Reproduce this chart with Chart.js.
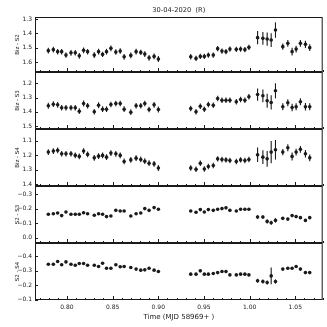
<!DOCTYPE html>
<html>
<head>
<meta charset="utf-8">
<script src="https://cdn.jsdelivr.net/npm/chart.js@4"></script>
<style>
  body { margin: 0; background: #fff; }
  #wrap { position: relative; width: 327px; height: 327px; }
  .painel { position: absolute; left: 0; width: 327px; }
</style>
</head>
<body>
<div id="wrap"></div>
<script>
// tempos (MJD 58969+)
const tempos = [
  0.7796, 0.7851, 0.7898, 0.7942, 0.7989, 0.8044, 0.8091, 0.8135, 0.8182, 0.8226,
  0.8299, 0.8346, 0.8390, 0.8433, 0.8481, 0.8535, 0.8583, 0.8626, 0.8699, 0.8757,
  0.8808, 0.8852, 0.8899, 0.8954, 0.9001,
  0.9355, 0.9413, 0.9460, 0.9504, 0.9548, 0.9602, 0.9650, 0.9697, 0.9741, 0.9784,
  0.9854, 0.9901, 0.9948, 0.9992,
  1.0087, 1.0145, 1.0192, 1.0236, 1.0283,
  1.0363, 1.0418, 1.0465, 1.0509, 1.0556, 1.0611, 1.0658
];

const bizS2 = [
  1.521, 1.514, 1.528, 1.528, 1.552, 1.536, 1.536, 1.557, 1.519, 1.528,
  1.552, 1.528, 1.547, 1.528, 1.505, 1.531, 1.524, 1.564, 1.554, 1.528,
  1.533, 1.545, 1.571, 1.561, 1.580,
  1.564, 1.575, 1.561, 1.561, 1.552, 1.552, 1.507, 1.524, 1.528, 1.510,
  1.512, 1.510, 1.514, 1.498,
  1.430, 1.435, 1.440, 1.447, 1.377,
  1.493, 1.470, 1.528, 1.510, 1.470, 1.477, 1.500
];
const errBizS2 = [
  0.020, 0.020, 0.019, 0.019, 0.019, 0.020, 0.019, 0.020, 0.020, 0.019,
  0.020, 0.020, 0.019, 0.020, 0.020, 0.019, 0.019, 0.020, 0.020, 0.020,
  0.019, 0.020, 0.020, 0.020, 0.021,
  0.019, 0.018, 0.018, 0.018, 0.018, 0.018, 0.018, 0.018, 0.018, 0.018,
  0.018, 0.018, 0.018, 0.018,
  0.047, 0.044, 0.046, 0.048, 0.054,
  0.022, 0.024, 0.027, 0.024, 0.024, 0.026, 0.024
];

const bizS3 = [
  1.358, 1.347, 1.351, 1.372, 1.372, 1.372, 1.372, 1.396, 1.342, 1.358,
  1.400, 1.354, 1.382, 1.382, 1.349, 1.342, 1.342, 1.382, 1.403, 1.358,
  1.358, 1.342, 1.384, 1.351, 1.384,
  1.377, 1.400, 1.361, 1.382, 1.349, 1.354, 1.307, 1.319, 1.319, 1.319,
  1.330, 1.314, 1.319, 1.295,
  1.279, 1.288, 1.323, 1.335, 1.253,
  1.365, 1.337, 1.370, 1.365, 1.330, 1.365, 1.365
];
const errBizS3 = [
  0.021, 0.020, 0.020, 0.020, 0.020, 0.020, 0.020, 0.020, 0.021, 0.020,
  0.020, 0.021, 0.020, 0.020, 0.020, 0.020, 0.020, 0.020, 0.020, 0.020,
  0.020, 0.020, 0.020, 0.020, 0.021,
  0.019, 0.019, 0.019, 0.019, 0.019, 0.019, 0.019, 0.019, 0.019, 0.019,
  0.019, 0.019, 0.019, 0.019,
  0.043, 0.045, 0.049, 0.050, 0.053,
  0.024, 0.025, 0.027, 0.025, 0.025, 0.026, 0.025
];

const bizS4 = [
  1.179, 1.172, 1.167, 1.191, 1.191, 1.191, 1.202, 1.209, 1.172, 1.195,
  1.219, 1.207, 1.202, 1.214, 1.186, 1.191, 1.202, 1.244, 1.233, 1.221,
  1.230, 1.242, 1.256, 1.261, 1.289,
  1.289, 1.298, 1.256, 1.296, 1.279, 1.272, 1.226, 1.230, 1.233, 1.237,
  1.244, 1.233, 1.237, 1.230,
  1.198, 1.214, 1.226, 1.179, 1.163,
  1.179, 1.149, 1.209, 1.179, 1.160, 1.191, 1.219
];
const errBizS4 = [
  0.020, 0.020, 0.020, 0.019, 0.019, 0.019, 0.020, 0.020, 0.020, 0.020,
  0.020, 0.020, 0.020, 0.020, 0.020, 0.020, 0.020, 0.020, 0.020, 0.020,
  0.020, 0.020, 0.020, 0.020, 0.021,
  0.019, 0.019, 0.019, 0.019, 0.019, 0.019, 0.019, 0.019, 0.019, 0.019,
  0.019, 0.019, 0.019, 0.019,
  0.050, 0.047, 0.055, 0.077, 0.068,
  0.022, 0.024, 0.028, 0.024, 0.024, 0.026, 0.024
];

const s2s3 = [
  -0.161, -0.165, -0.170, -0.152, -0.177, -0.161, -0.161, -0.161, -0.172, -0.165,
  -0.154, -0.165, -0.161, -0.145, -0.149, -0.188, -0.184, -0.184, -0.149, -0.165,
  -0.170, -0.200, -0.188, -0.207, -0.195,
  -0.184, -0.175, -0.193, -0.177, -0.193, -0.188, -0.195, -0.200, -0.205, -0.188,
  -0.184, -0.195, -0.195, -0.195,
  -0.142, -0.142, -0.112, -0.103, -0.119,
  -0.133, -0.128, -0.152, -0.145, -0.138, -0.119, -0.138
];
const errS2s3 = [
  0.007, 0.007, 0.007, 0.007, 0.007, 0.007, 0.007, 0.007, 0.007, 0.007,
  0.007, 0.007, 0.007, 0.007, 0.007, 0.007, 0.007, 0.007, 0.007, 0.007,
  0.007, 0.007, 0.007, 0.007, 0.007,
  0.007, 0.007, 0.007, 0.007, 0.007, 0.007, 0.007, 0.007, 0.007, 0.007,
  0.007, 0.007, 0.007, 0.007,
  0.012, 0.012, 0.014, 0.013, 0.015,
  0.009, 0.009, 0.009, 0.009, 0.009, 0.010, 0.010
];

const s2s4 = [
  -0.346, -0.346, -0.365, -0.342, -0.362, -0.346, -0.339, -0.351, -0.351, -0.339,
  -0.339, -0.330, -0.353, -0.318, -0.318, -0.342, -0.328, -0.330, -0.323, -0.312,
  -0.305, -0.307, -0.318, -0.305, -0.295,
  -0.277, -0.277, -0.300, -0.277, -0.277, -0.282, -0.288, -0.295, -0.295, -0.272,
  -0.272, -0.277, -0.277, -0.272,
  -0.231, -0.226, -0.219, -0.265, -0.226,
  -0.312, -0.318, -0.318, -0.330, -0.312, -0.288, -0.288
];
const errS2s4 = [
  0.007, 0.007, 0.007, 0.007, 0.007, 0.007, 0.007, 0.007, 0.007, 0.007,
  0.007, 0.007, 0.007, 0.007, 0.007, 0.007, 0.007, 0.007, 0.007, 0.007,
  0.007, 0.007, 0.007, 0.007, 0.007,
  0.007, 0.007, 0.007, 0.007, 0.007, 0.007, 0.007, 0.007, 0.007, 0.007,
  0.007, 0.007, 0.007, 0.007,
  0.014, 0.014, 0.014, 0.058, 0.015,
  0.009, 0.009, 0.009, 0.009, 0.009, 0.010, 0.010
];

const rotulos = ['Biz - S2', 'Biz - S3', 'Biz - S4', 'S2 - S3', 'S2 - S4'];
const series = [bizS2, bizS3, bizS4, s2s3, s2s4];
const erros = [errBizS2, errBizS3, errBizS4, errS2s3, errS2s4];

// rotulos dos ticks
const ticksX = [0.80, 0.85, 0.90, 0.95, 1.00, 1.05];
const ticksY = [
  [1.3, 1.4, 1.5, 1.6],
  [1.2, 1.3, 1.4, 1.5],
  [1.1, 1.2, 1.3, 1.4],
  [-0.3, -0.2, -0.1, 0.0],
  [-0.4, -0.3, -0.2, -0.1]
];

// limites dos eixos y (invertidos, magnitudes)
const limitesY = [[1.286, 1.670], [1.121, 1.521], [1.019, 1.414], [-0.355, 0.036], [-0.493, -0.098]];
// bordas dos paineis em pixels
const topos = [17, 72, 129, 186, 243];
const baseFinal = 300;

const COR = '#1a1a1a';
const FONTE = 'DejaVu Sans';

const molduraPlugin = {
  id: 'moldura',
  beforeDatasetsDraw(chart) {
    // barras de erro
    const { ctx, scales: { y } } = chart;
    const ds = chart.data.datasets[0];
    const meta = chart.getDatasetMeta(0);
    ctx.save();
    ctx.strokeStyle = COR;
    ctx.lineWidth = 1.1;
    meta.data.forEach((el, k) => {
      const v = ds.data[k].y;
      const e = ds.erros[k];
      ctx.beginPath();
      ctx.moveTo(el.x, y.getPixelForValue(v - e));
      ctx.lineTo(el.x, y.getPixelForValue(v + e));
      ctx.stroke();
    });
    ctx.restore();
  },
  afterDraw(chart) {
    const { ctx, chartArea: a, scales: { x, y } } = chart;
    ctx.save();
    ctx.strokeStyle = COR;
    ctx.lineWidth = 1;
    ctx.strokeRect(a.left + 0.5, a.top + 0.5, a.width - 1, a.height - 1);
    // ticks do eixo x, para dentro (menores a cada 0.01)
    ctx.beginPath();
    for (let k = Math.ceil(x.min * 100); k <= Math.floor(x.max * 100); k++) {
      const px = Math.round(x.getPixelForValue(k / 100)) + 0.5;
      const len = k % 5 === 0 ? 4 : 2;
      ctx.moveTo(px, a.bottom);
      ctx.lineTo(px, a.bottom - len);
    }
    // ticks do eixo y
    y.ticks.forEach(t => {
      const py = Math.round(y.getPixelForValue(t.value)) + 0.5;
      ctx.moveTo(a.left, py);
      ctx.lineTo(a.left + 3, py);
    });
    ctx.stroke();
    ctx.restore();
  }
};

function criarPainel(i) {
  const primeiro = i === 0;
  const ultimo = i === series.length - 1;
  const topo = topos[i];
  const base = ultimo ? baseFinal : topos[i + 1];
  const inicio = primeiro ? 0 : topo - 2;
  const div = document.createElement('div');
  div.className = 'painel';
  div.style.top = inicio + 'px';
  div.style.height = (ultimo ? 327 - inicio : base + 2 - inicio) + 'px';
  const canvas = document.createElement('canvas');
  div.appendChild(canvas);
  document.getElementById('wrap').appendChild(div);

  new Chart(canvas, {
    type: 'scatter',
    data: {
      datasets: [{
        data: tempos.map((t, k) => ({ x: t, y: series[i][k] })),
        erros: erros[i],
        backgroundColor: COR,
        borderColor: COR,
        borderWidth: 0,
        pointRadius: 1.8,
        pointHoverRadius: 1.8
      }]
    },
    options: {
      responsive: true,
      maintainAspectRatio: false,
      animation: false,
      events: [],
      layout: { padding: { top: primeiro ? 0 : 2, bottom: ultimo ? 0 : 2, left: 0, right: 4.3 } },
      plugins: {
        legend: { display: false },
        tooltip: { enabled: false },
        title: {
          display: primeiro,
          fullSize: false,
          text: '30-04-2020  (R)',
          color: '#222',
          font: { size: 6.7, family: FONTE, weight: 'normal', lineHeight: 1 },
          padding: { top: 6.5, bottom: 17 - 6.5 - 6.7 }
        }
      },
      scales: {
        x: {
          type: 'linear',
          min: 0.765,
          max: 1.080,
          display: ultimo,
          afterBuildTicks: s => { s.ticks = ticksX.map(v => ({ value: v })); },
          afterFit: s => {
            s.height = ultimo ? 327 - baseFinal : 0;
            s.paddingLeft = 0;
            s.paddingRight = 0;
          },
          grid: { display: false, drawTicks: false },
          border: { display: false },
          ticks: {
            autoSkip: false,
            maxRotation: 0,
            padding: 4,
            color: '#222',
            font: { size: 6, family: FONTE },
            callback: v => v.toFixed(2)
          },
          title: {
            display: true,
            text: 'Time (MJD 58969+ )',
            color: '#222',
            font: { size: 7, family: FONTE },
            padding: { top: 0, bottom: 5.5 }
          }
        },
        y: {
          reverse: true,
          min: limitesY[i][0],
          max: limitesY[i][1],
          afterBuildTicks: s => { s.ticks = ticksY[i].map(v => ({ value: v })); },
          afterFit: s => {
            s.width = 35;
            s.paddingTop = 0;
            s.paddingBottom = 0;
          },
          grid: { display: false, drawTicks: false },
          border: { display: false },
          ticks: {
            autoSkip: false,
            padding: 3,
            color: '#222',
            font: { size: 6, family: FONTE },
            callback: v => v.toFixed(1).replace('-', '\u2212')
          },
          title: {
            display: true,
            text: rotulos[i],
            color: '#222',
            font: { size: 5.5, family: FONTE },
            padding: { top: 14, bottom: 0 }
          }
        }
      }
    },
    plugins: [molduraPlugin]
  });
}

series.forEach((_, i) => criarPainel(i));
</script>
</body>
</html>
